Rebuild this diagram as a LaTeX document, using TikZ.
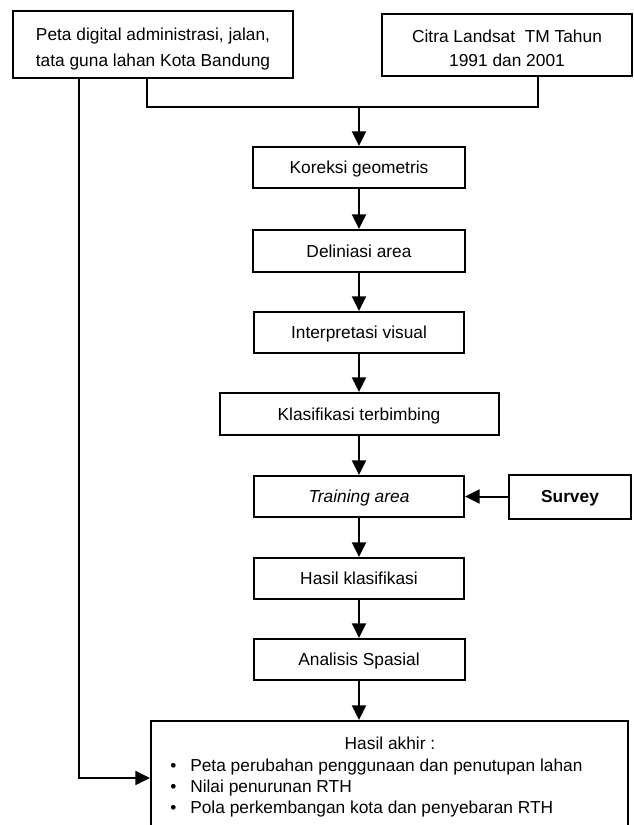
\documentclass[tikz,border=0pt]{standalone}
\usepackage{fontspec}
\setmainfont{Liberation Sans}
\usetikzlibrary{arrows.meta}

\begin{document}
\begin{tikzpicture}[x=0.75pt, y=-0.75pt, >={Triangle[length=11pt, width=10.5pt]},
    kotak/.style={draw, line width=1.5pt, inner sep=0pt, align=center, text height=11.8pt, text depth=2.8pt, font=\fontsize{13pt}{15.5pt}\selectfont},
    teks/.style={inner sep=0pt, font=\fontsize{13pt}{15.4pt}\selectfont},
    garis/.style={line width=1.5pt},
    panah/.style={->, line width=1.5pt}]
    \useasboundingbox (0,0) rectangle (633,825);

    % Data masukan
    \node[kotak, minimum width=210pt, minimum height=50.25pt, text height=36pt, font=\fontsize{13pt}{19.5pt}\selectfont] (peta) at (153,44.5) {Peta digital administrasi, jalan,\\tata guna lahan Kota Bandung};
    \node[kotak, minimum width=187.5pt, minimum height=46.5pt, text height=35.4pt, font=\fontsize{13pt}{18pt}\selectfont] (citra) at (507,45) {Citra Landsat~ TM Tahun\\1991 dan 2001};

    % Titik bantu sambungan
    \coordinate (kiri) at (79,779);
    \coordinate (gabungA) at (147,107);
    \coordinate (gabungB) at (538,107);

    % Alur pengolahan citra
    \node[kotak, minimum width=159pt, minimum height=30.75pt] (koreksi) at (359,167.5) {Koreksi geometris};
    \node[kotak, minimum width=159pt, minimum height=31.5pt] (delineasi) at (359,251) {Deliniasi area};
    \node[kotak, minimum width=158pt, minimum height=30.75pt] (interpretasi) at (359,332.5) {Interpretasi visual};
    \node[kotak, minimum width=209.25pt, minimum height=31.5pt] (klasifikasi) at (359,414) {Klasifikasi terbimbing};
    \node[kotak, minimum width=157.5pt, minimum height=30.75pt] (training) at (359,496.5) {\itshape Training area};
    \node[kotak, minimum width=91.5pt, minimum height=33pt] (survey) at (570,496.5) {\bfseries Survey};
    \node[kotak, minimum width=157.5pt, minimum height=30.75pt] (hasil) at (359,578.5) {Hasil klasifikasi};
    \node[kotak, minimum width=158.25pt, minimum height=30.75pt] (analisis) at (359,659.5) {Analisis Spasial};

    % Hasil akhir (sisi bawah terpotong)
    \node[kotak, minimum width=357.75pt, minimum height=85.5pt, text height=0pt, text depth=0pt] (akhir) at (389.5,778) {};
    \node[teks] (judul) at (390,743) {Hasil akhir :};
    \node[teks, anchor=west, align=left] (daftar) at (170,788) {\makebox[15pt][l]{\textbullet}Peta perubahan penggunaan dan penutupan lahan\\\makebox[15pt][l]{\textbullet}Nilai penurunan RTH\\\makebox[15pt][l]{\textbullet}Pola perkembangan kota dan penyebaran RTH};

    % Sambungan
    \draw[garis] (peta.south -| gabungA) |- (gabungB) -- (citra.south -| gabungB);
    \draw[panah] (koreksi.north |- gabungA) -- (koreksi);
    \draw[panah] (koreksi) -- (delineasi);
    \draw[panah] (delineasi) -- (interpretasi);
    \draw[panah] (interpretasi) -- (klasifikasi);
    \draw[panah] (klasifikasi) -- (training);
    \draw[panah] (survey) -- (training);
    \draw[panah] (training) -- (hasil);
    \draw[panah] (hasil) -- (analisis);
    \draw[panah] (analisis.south) -- (analisis.south |- akhir.north);
    \draw[panah] (peta.south -| kiri) |- (akhir.west);
\end{tikzpicture}
\end{document}
